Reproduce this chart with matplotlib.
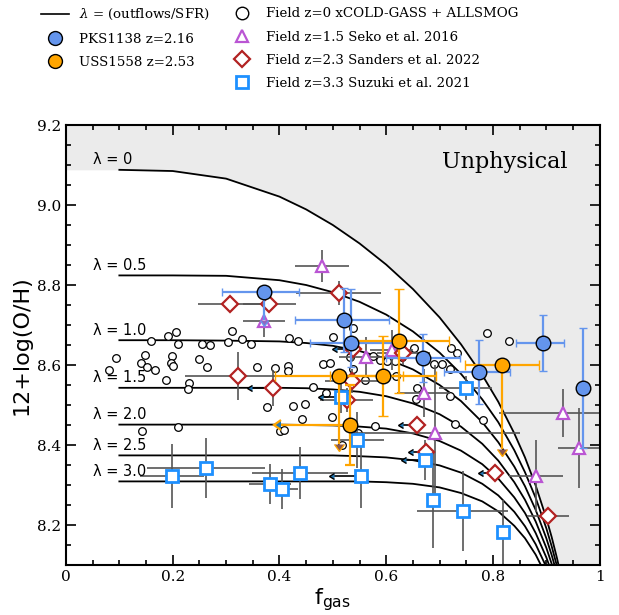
import matplotlib
matplotlib.use('Agg')
import matplotlib.pyplot as plt
from matplotlib.lines import Line2D
from matplotlib.ticker import MultipleLocator

plt.rcParams['font.family'] = 'serif'
plt.rcParams['font.serif'] = ['DejaVu Serif']
plt.rcParams['mathtext.fontset'] = 'dejavuserif'

# ---- model tracks ----
lam_names = ['0', '0.5', '1.0', '1.5', '2.0', '2.5', '3.0']
fgas_grid = [0.10, 0.20, 0.30, 0.40, 0.45, 0.50, 0.55, 0.60, 0.65, 0.70,
             0.74, 0.78, 0.81, 0.84, 0.86, 0.88, 0.90, 0.91, 0.92, 0.93]
oh_lam00 = [9.088, 9.085, 9.066, 9.021, 8.989, 8.950, 8.904, 8.851, 8.790, 8.719,
            8.652, 8.575, 8.508, 8.429, 8.369, 8.299, 8.217, 8.170, 8.117, 8.058]
oh_lam05 = [8.824, 8.824, 8.823, 8.812, 8.800, 8.782, 8.758, 8.726, 8.684, 8.631,
            8.578, 8.514, 8.457, 8.387, 8.332, 8.268, 8.192, 8.147, 8.097, 8.040]
oh_lam10 = [8.662, 8.662, 8.661, 8.659, 8.655, 8.648, 8.635, 8.616, 8.589, 8.550,
            8.510, 8.457, 8.407, 8.346, 8.297, 8.238, 8.167, 8.125, 8.078, 8.023]
oh_lam15 = [8.543, 8.543, 8.543, 8.543, 8.542, 8.539, 8.533, 8.522, 8.504, 8.477,
            8.446, 8.403, 8.361, 8.307, 8.263, 8.209, 8.143, 8.103, 8.058, 8.006]
oh_lam20 = [8.451, 8.451, 8.451, 8.451, 8.450, 8.449, 8.446, 8.441, 8.429, 8.410,
            8.386, 8.352, 8.316, 8.269, 8.230, 8.180, 8.119, 8.082, 8.039, 7.990]
oh_lam25 = [8.374, 8.374, 8.374, 8.374, 8.374, 8.374, 8.372, 8.369, 8.362, 8.349,
            8.331, 8.303, 8.274, 8.233, 8.197, 8.152, 8.095, 8.061, 8.020, 7.973]
oh_lam30 = [8.309, 8.309, 8.309, 8.309, 8.309, 8.309, 8.309, 8.307, 8.303, 8.294,
            8.280, 8.259, 8.234, 8.198, 8.167, 8.126, 8.073, 8.040, 8.002, 7.957]
tracks = [oh_lam00, oh_lam05, oh_lam10, oh_lam15, oh_lam20, oh_lam25, oh_lam30]

# ---- field z=0 xCOLD-GASS + ALLSMOG ----
z0_f = [0.159, 0.192, 0.207, 0.210, 0.254, 0.269, 0.304, 0.311, 0.329, 0.346,
        0.417, 0.435, 0.501, 0.537, 0.094, 0.081, 0.148, 0.140, 0.151, 0.167,
        0.199, 0.197, 0.201, 0.250, 0.264, 0.187, 0.230, 0.228, 0.357, 0.391,
        0.416, 0.416, 0.481, 0.494, 0.376, 0.210, 0.142, 0.425, 0.448, 0.463,
        0.488, 0.443, 0.498, 0.401, 0.408, 0.532, 0.576, 0.588, 0.601, 0.616,
        0.629, 0.537, 0.560, 0.619, 0.652, 0.658, 0.721, 0.732, 0.689, 0.704,
        0.719, 0.788, 0.831, 0.655, 0.669, 0.720, 0.579, 0.729, 0.782, 0.548,
        0.518]
z0_oh = [8.661, 8.673, 8.683, 8.653, 8.653, 8.651, 8.658, 8.686, 8.665, 8.652,
         8.667, 8.661, 8.671, 8.692, 8.618, 8.588, 8.626, 8.605, 8.596, 8.588,
         8.623, 8.604, 8.597, 8.615, 8.595, 8.563, 8.556, 8.540, 8.595, 8.592,
         8.597, 8.586, 8.602, 8.605, 8.496, 8.444, 8.436, 8.497, 8.503, 8.544,
         8.529, 8.465, 8.469, 8.436, 8.437, 8.621, 8.623, 8.613, 8.611, 8.611,
         8.621, 8.591, 8.563, 8.573, 8.642, 8.543, 8.642, 8.631, 8.603, 8.602,
         8.589, 8.681, 8.661, 8.516, 8.525, 8.522, 8.448, 8.452, 8.462, 8.431,
         8.400]

# ---- field z=1.5 Seko et al. 2016 ----
seko_f = [0.480, 0.371, 0.562, 0.610, 0.670, 0.691, 0.931, 0.961, 0.881]
seko_oh = [8.848, 8.710, 8.620, 8.638, 8.531, 8.429, 8.481, 8.392, 8.322]
seko_xerr = [0.05, 0.04, 0.05, 0.04, 0.05, 0.16, 0.12, 0.04, 0.05]
seko_yerr = [0.04, 0.04, 0.05, 0.05, 0.06, 0.17, 0.06, 0.10, 0.09]

# ---- field z=2.3 Sanders et al. 2022 ----
sand_f = [0.307, 0.381, 0.511, 0.323, 0.632, 0.536, 0.526, 0.903]
sand_oh = [8.752, 8.752, 8.781, 8.572, 8.630, 8.560, 8.513, 8.222]
sand_xerr = [0.06, 0.05, 0.08, 0.10, 0.05, 0.05, 0.05, 0.04]
sand_yerr = [0.02, 0.02, 0.03, 0.06, 0.03, 0.03, 0.03, 0.01]
# points with f_gas upper limits
sand_lim_f = [0.388, 0.538, 0.657, 0.675, 0.803]
sand_lim_oh = [8.543, 8.640, 8.451, 8.383, 8.331]
sand_lim_len = [0.040, 0.030, 0.025, 0.025, 0.021]
sand_lim_yerr = [0.045, 0.03, 0.0, 0.0, 0.0]

# ---- field z=3.3 Suzuki et al. 2021 ----
suz_f = [0.198, 0.262, 0.382, 0.404, 0.438, 0.546, 0.688, 0.743, 0.818, 0.749]
suz_oh = [8.323, 8.343, 8.303, 8.290, 8.331, 8.413, 8.263, 8.234, 8.183, 8.542]
suz_xerr = [0.06, 0.11, 0.04, 0.03, 0.09, 0.05, 0.0, 0.085, 0.0, 0.05]
suz_yerr = [0.08, 0.075, 0.05, 0.05, 0.065, 0.07, 0.12, 0.10, 0.08, 0.03]
suz_lim_f = [0.552, 0.516, 0.672]
suz_lim_oh = [8.323, 8.520, 8.363]
suz_lim_len = [0.05, 0.035, 0.035]
suz_lim_yerr = [0.08, 0.04, 0.05]

# ---- PKS1138 z=2.16 ----
pks_f = [0.371, 0.521, 0.534, 0.669, 0.774, 0.893, 0.969]
pks_oh = [8.782, 8.712, 8.656, 8.617, 8.583, 8.656, 8.543]
pks_xlo = [0.078, 0.092, 0.077, 0.07, 0.066, 0.049, 0.0]
pks_xhi = [0.065, 0.084, 0.09, 0.07, 0.058, 0.041, 0.0]
pks_ylo = [0.07, 0.08, 0.06, 0.06, 0.08, 0.07, 0.15]
pks_yhi = [0.0, 0.08, 0.135, 0.06, 0.08, 0.07, 0.15]
pks_uplim = [True, False, False, False, False, False, False]

# ---- USS1558 z=2.53 ----
uss_f = [0.624, 0.817, 0.512, 0.594]
uss_oh = [8.661, 8.601, 8.573, 8.573]
uss_xerr = [0.093, 0.069, 0.12, 0.10]
uss_yerr = [0.13, 0.21, 0.17, 0.10]
uss_uplim = [False, True, True, False]
uss_lim_f = [0.533]
uss_lim_oh = [8.451]
uss_lim_len = [0.13]
uss_lim_yerr = [0.10]

fig = plt.figure(figsize=(6.19, 6.15), dpi=100)
ax = fig.add_axes([0.1066, 0.0813, 0.8622, 0.7154])

# unphysical region above the lambda=0 track
ax.fill_between([0.0] + fgas_grid + [1.0], [oh_lam00[0]] + oh_lam00 + [8.1], 9.2,
                color='#ebebeb', lw=0, zorder=0)
ax.text(0.822, 9.108, 'Unphysical', fontsize=16, ha='center', va='center')

for name, oh in zip(lam_names, tracks):
    ax.plot(fgas_grid, oh, color='k', lw=1.3, zorder=1)
    ax.text(0.05, oh[0] + 0.006, 'λ = ' + name, fontsize=10.5,
            family='DejaVu Sans', va='bottom', ha='left')

gray = '#555555'

# field z=0
ax.plot(z0_f, z0_oh, ls='none', marker='o', ms=5.5, mfc='white', mec='k', mew=0.9, zorder=2)

# Seko
ax.errorbar(seko_f, seko_oh, xerr=seko_xerr, yerr=seko_yerr, fmt='none',
            ecolor=gray, elinewidth=1.2, capsize=0, zorder=2)
ax.plot(seko_f, seko_oh, ls='none', marker='^', ms=9, mfc='white',
        mec='mediumorchid', mew=1.6, zorder=3)

# Sanders
ax.errorbar(sand_f, sand_oh, xerr=sand_xerr, yerr=sand_yerr, fmt='none',
            ecolor=gray, elinewidth=1.2, capsize=0, zorder=2)
ax.errorbar(sand_lim_f, sand_lim_oh, yerr=sand_lim_yerr, fmt='none',
            ecolor=gray, elinewidth=1.2, capsize=0, zorder=2)
ax.errorbar(sand_lim_f, sand_lim_oh, xerr=sand_lim_len, xuplims=[True] * len(sand_lim_f),
            fmt='none', ecolor='k', elinewidth=1.2, capsize=2.5, zorder=2)
ax.plot(sand_f + sand_lim_f, sand_oh + sand_lim_oh, ls='none', marker='D', ms=8.5,
        mfc='white', mec='firebrick', mew=1.6, zorder=3)

# Suzuki
ax.errorbar(suz_f, suz_oh, xerr=suz_xerr, yerr=suz_yerr, fmt='none',
            ecolor=gray, elinewidth=1.2, capsize=0, zorder=2)
ax.errorbar(suz_lim_f, suz_lim_oh, yerr=suz_lim_yerr, fmt='none',
            ecolor=gray, elinewidth=1.2, capsize=0, zorder=2)
ax.errorbar(suz_lim_f, suz_lim_oh, xerr=suz_lim_len, xuplims=[True] * len(suz_lim_f),
            fmt='none', ecolor='k', elinewidth=1.2, capsize=2.5, zorder=2)
ax.plot(suz_f + suz_lim_f, suz_oh + suz_lim_oh, ls='none', marker='s', ms=8,
        mfc='white', mec='dodgerblue', mew=2, zorder=3)

# PKS1138
ax.errorbar(pks_f, pks_oh, xerr=[pks_xlo, pks_xhi], yerr=[pks_ylo, pks_yhi],
            uplims=pks_uplim, fmt='o', ms=10.5, mfc='cornflowerblue', mec='k', mew=1,
            ecolor='cornflowerblue', elinewidth=1.6, capsize=3, capthick=1.6, zorder=4)

# USS1558
ax.errorbar(uss_lim_f, uss_lim_oh, xerr=uss_lim_len, xuplims=[True],
            yerr=uss_lim_yerr, fmt='none', ecolor='orange', elinewidth=1.6,
            capsize=3.5, capthick=1.6, zorder=4)
ax.errorbar(uss_f + uss_lim_f, uss_oh + uss_lim_oh, xerr=uss_xerr + [0.0],
            yerr=uss_yerr + [0.0], uplims=uss_uplim + [False], fmt='o', ms=10.5,
            mfc='orange', mec='k', mew=1, ecolor='orange', elinewidth=1.6,
            capsize=3.5, capthick=1.6, zorder=4)

ax.set_xlim(0, 1)
ax.set_ylim(8.1, 9.2)
ax.set_xticks([0, 0.2, 0.4, 0.6, 0.8, 1.0])
ax.set_xticklabels(['0', '0.2', '0.4', '0.6', '0.8', '1'])
ax.set_yticks([8.2, 8.4, 8.6, 8.8, 9.0, 9.2])
ax.set_yticklabels(['8.2', '8.4', '8.6', '8.8', '9.0', '9.2'])
ax.xaxis.set_minor_locator(MultipleLocator(0.05))
ax.yaxis.set_minor_locator(MultipleLocator(0.05))
ax.tick_params(which='both', direction='in', top=True, right=True, width=1.2, labelsize=11)
ax.tick_params(which='major', length=7)
ax.tick_params(which='minor', length=3.5)
for sp in ax.spines.values():
    sp.set_linewidth(1.5)

ax.set_xlabel(r'f$_{\rm gas}$', fontsize=16, family='DejaVu Sans',
              math_fontfamily='dejavusans', labelpad=2)
ax.set_ylabel('12+log(O/H)', fontsize=16, family='DejaVu Sans')

h_left = [
    Line2D([], [], color='k', lw=1.2),
    Line2D([], [], ls='none', marker='o', ms=10, mfc='cornflowerblue', mec='k'),
    Line2D([], [], ls='none', marker='o', ms=10, mfc='orange', mec='k'),
]
l_left = [r'$\lambda$ = (outflows/SFR)', 'PKS1138 z=2.16', 'USS1558 z=2.53']
h_right = [
    Line2D([], [], ls='none', marker='o', ms=9, mfc='white', mec='k', mew=1),
    Line2D([], [], ls='none', marker='^', ms=9, mfc='white', mec='mediumorchid', mew=1.6),
    Line2D([], [], ls='none', marker='D', ms=8, mfc='white', mec='firebrick', mew=1.6),
    Line2D([], [], ls='none', marker='s', ms=8, mfc='white', mec='dodgerblue', mew=2),
]
l_right = ['Field z=0 xCOLD-GASS + ALLSMOG', 'Field z=1.5 Seko et al. 2016',
           'Field z=2.3 Sanders et al. 2022', 'Field z=3.3 Suzuki et al. 2021']
leg_kw = dict(loc='upper left', frameon=False, fontsize=9.6, borderpad=0,
              borderaxespad=0, handlelength=2.1, handletextpad=0.75, labelspacing=0.76)
fig.legend(h_left, l_left, bbox_to_anchor=(0.066, 0.988), **leg_kw)
fig.legend(h_right, l_right, bbox_to_anchor=(0.368, 0.988), **leg_kw)

fig.savefig('out.png', dpi=100)
